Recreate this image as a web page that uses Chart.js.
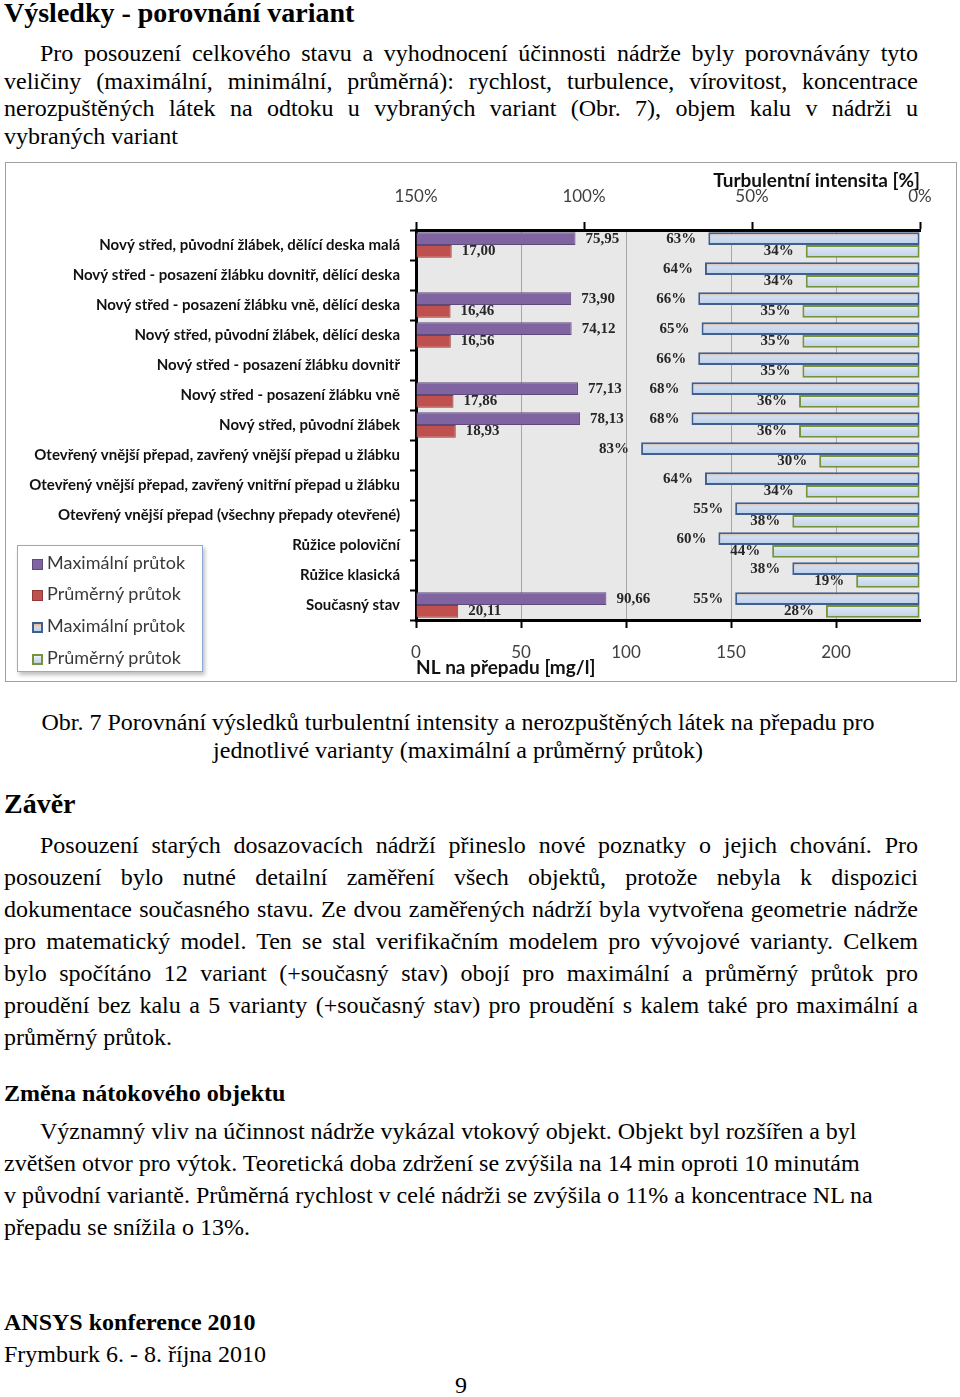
<!DOCTYPE html>
<html lang="cs">
<head>
<meta charset="utf-8">
<title>Výsledky - porovnání variant</title>
<script src="https://cdn.jsdelivr.net/npm/chart.js@4/dist/chart.umd.min.js"></script>
<style>
  html, body { margin: 0; padding: 0; background: #fff; }
  body { width: 960px; height: 1397px; position: relative; overflow: hidden;
         font-family: "Liberation Serif", "Times New Roman", serif; color: #000; font-size: 24px; }
  .abs { position: absolute; }
  .h1 { font-weight: bold; font-size: 28px; line-height: 32px; white-space: nowrap; }
  .h2 { font-weight: bold; font-size: 24px; line-height: 32px; white-space: nowrap; }
  .just div { text-align: justify; text-align-last: justify; white-space: nowrap; }
  .just div.last, .left div { text-align: left; text-align-last: left; white-space: nowrap; }
  .ind { text-indent: 36px; }
  #box { position: absolute; left: 5px; top: 162px; width: 952px; height: 520px;
         border: 1px solid #a0a0a0; box-sizing: border-box; background: #fff; }
  #c { position: absolute; left: 0; top: 0; }
  #legend { position: absolute; left: 11px; top: 382px; width: 186px; height: 127px;
            border: 1px solid #8eaadb; background: #fff; box-sizing: border-box;
            box-shadow: 2px 3px 4px rgba(0,0,0,0.25);
            font-family: Lato, "Open Sans", sans-serif; font-size: 18px; color: #3a3a3a; }
  #legend .it { position: absolute; left: 14px; height: 24px; line-height: 24px; white-space: nowrap; }
  #legend .mk { display: inline-block; width: 11px; height: 11px; box-sizing: border-box;
                margin-right: 4px; vertical-align: -1px; }
</style>
</head>
<body>

<div class="abs h1" style="left:4px; top:-3px;">Výsledky - porovnání variant</div>

<div class="abs just" style="left:4px; top:40px; width:914px; line-height:27.7px;">
  <div class="ind">Pro posouzení celkového stavu a vyhodnocení účinnosti nádrže byly porovnávány tyto</div>
  <div>veličiny (maximální, minimální, průměrná): rychlost, turbulence, vírovitost, koncentrace</div>
  <div>nerozpuštěných látek na odtoku u vybraných variant (Obr. 7), objem kalu v&nbsp;nádrži u</div>
  <div class="last">vybraných variant</div>
</div>

<div id="box">
  <canvas id="c" width="950" height="518"></canvas>
  <div id="legend">
    <div class="it" style="top:4px;"><span class="mk" style="background:#8064a2;border:1px solid #5e4a7a;"></span>Maximální průtok</div>
    <div class="it" style="top:35px;"><span class="mk" style="background:#c0504d;border:1px solid #8e3a38;"></span>Průměrný průtok</div>
    <div class="it" style="top:67px;"><span class="mk" style="background:linear-gradient(#f2b68c,#d0def0 45%,#bcd0ea);border:2px solid #3f5f8e;"></span>Maximální průtok</div>
    <div class="it" style="top:99px;"><span class="mk" style="background:linear-gradient(#eef2f7,#d3e0f0 45%,#bfd2ea);border:2px solid #77933c;"></span>Průměrný průtok</div>
  </div>
</div>

<div class="abs" style="left:0; top:708px; width:916px; text-align:center; line-height:28px; white-space:nowrap;">
  Obr. 7 Porovnání výsledků turbulentní intensity a nerozpuštěných látek na přepadu pro<br>jednotlivé varianty (maximální a průměrný průtok)
</div>

<div class="abs h1" style="left:4px; top:788px;">Závěr</div>

<div class="abs just" style="left:4px; top:829px; width:914px; line-height:32px;">
  <div class="ind">Posouzení starých dosazovacích nádrží přineslo nové poznatky o jejich chování. Pro</div>
  <div>posouzení bylo nutné detailní zaměření všech objektů, protože nebyla k&nbsp;dispozici</div>
  <div>dokumentace současného stavu. Ze dvou zaměřených nádrží byla vytvořena geometrie nádrže</div>
  <div>pro matematický model. Ten se stal verifikačním modelem pro vývojové varianty. Celkem</div>
  <div>bylo spočítáno 12 variant (+současný stav) obojí pro maximální a průměrný průtok pro</div>
  <div>proudění bez kalu a 5 varianty (+současný stav) pro proudění s&nbsp;kalem také pro maximální a</div>
  <div class="last">průměrný průtok.</div>
</div>

<div class="abs h2" style="left:4px; top:1077px;">Změna nátokového objektu</div>

<div class="abs left" style="left:4px; top:1115px; width:914px; line-height:32px;">
  <div class="ind">Významný vliv na účinnost nádrže vykázal vtokový objekt. Objekt byl rozšířen a byl</div>
  <div>zvětšen otvor pro výtok. Teoretická doba zdržení se zvýšila na 14 min oproti 10 minutám</div>
  <div>v&nbsp;původní variantě. Průměrná rychlost v celé nádrži se zvýšila o 11% a koncentrace NL na</div>
  <div>přepadu se snížila o 13%.</div>
</div>

<div class="abs h2" style="left:4px; top:1306px;">ANSYS konference 2010</div>
<div class="abs" style="left:4px; top:1338px; line-height:32px; white-space:nowrap;">Frymburk 6. - 8. října 2010</div>
<div class="abs" style="left:455px; top:1369px; line-height:32px;">9</div>

<script>
const categories = [
  'Nový střed, původní žlábek, dělící deska malá',
  'Nový střed - posazení žlábku dovnitř, dělící deska',
  'Nový střed - posazení žlábku vně, dělící deska',
  'Nový střed, původní žlábek, dělící deska',
  'Nový střed - posazení žlábku dovnitř',
  'Nový střed - posazení žlábku vně',
  'Nový střed, původní žlábek',
  'Otevřený vnější přepad, zavřený vnější přepad u žlábku',
  'Otevřený vnější přepad, zavřený vnitřní přepad u žlábku',
  'Otevřený vnější přepad (všechny přepady otevřené)',
  'Růžice poloviční',
  'Růžice klasická',
  'Současný stav'
];
// NL na prepadu [mg/l]
const nlMax = [75.95, null, 73.90, 74.12, null, 77.13, 78.13, null, null, null, null, null, 90.66];
const nlAvg = [17.00, null, 16.46, 16.56, null, 17.86, 18.93, null, null, null, null, null, 20.11];
// turbulentni intensita [%]
const tiMax = [63, 64, 66, 65, 66, 68, 68, 83, 64, 55, 60, 38, 55];
const tiAvg = [34, 34, 35, 35, 35, 36, 36, 30, 34, 38, 44, 19, 28];
const seriesNames = ['Maximální průtok', 'Průměrný průtok', 'Maximální průtok', 'Průměrný průtok'];
const nlTicks = [0, 50, 100, 150, 200];
const tiTicks = [150, 100, 50, 0];
const tiTitle = 'Turbulentní intensita [%]';

const CAT_PCT = 0.85;

// vertical gradient for the turbulence bars, computed from the y scale
function barFill(stops, slot) {
  return function (ctx) {
    const chart = ctx.chart;
    const ys = chart.scales.y;
    if (!chart.chartArea || !ys || ctx.dataIndex === undefined) return stops[1][1];
    const c = ys.getPixelForValue(ctx.dataIndex);
    const h = ys.height / categories.length * CAT_PCT / 2;
    const top = slot === 0 ? c - h : c;
    const g = chart.ctx.createLinearGradient(0, top, 0, top + h);
    stops.forEach(s => g.addColorStop(s[0], s[1]));
    return g;
  };
}

const plotBg = {
  id: 'plotBg',
  beforeDraw(chart) {
    const a = chart.chartArea, ctx = chart.ctx;
    ctx.save();
    ctx.fillStyle = '#e8e8e8';
    ctx.fillRect(a.left, a.top, a.right - a.left, a.bottom - a.top);
    ctx.restore();
  }
};

// title of the reversed top axis, right aligned at its end
const topTitle = {
  id: 'topTitle',
  afterDraw(chart) {
    const s = chart.scales.x2, ctx = chart.ctx;
    ctx.save();
    ctx.font = 'bold 19px Lato';
    ctx.fillStyle = '#111';
    ctx.textAlign = 'right';
    ctx.textBaseline = 'middle';
    ctx.fillText(tiTitle, s.right, s.top + 18);
    ctx.restore();
  }
};

const valueLabels = {
  id: 'valueLabels',
  afterDatasetsDraw(chart) {
    const ctx = chart.ctx;
    ctx.save();
    ctx.font = 'bold 15px "Liberation Serif"';
    ctx.fillStyle = '#262626';
    ctx.textBaseline = 'middle';
    chart.data.datasets.forEach((ds, i) => {
      const meta = chart.getDatasetMeta(i);
      meta.data.forEach((bar, j) => {
        const v = ds.data[j];
        if (v === null || v === undefined) return;
        if (ds.xAxisID === 'x') {
          ctx.textAlign = 'left';
          ctx.fillText(v.toFixed(2).replace('.', ','), bar.x + 10, bar.y);
        } else {
          ctx.textAlign = 'right';
          ctx.fillText(v + '%', bar.x - 12, bar.y);
        }
      });
    });
    ctx.restore();
  }
};

const tickFont = { family: 'Lato', size: 17 };
const titleFont = { family: 'Lato', size: 19, weight: 'bold' };

new Chart(document.getElementById('c'), {
  type: 'bar',
  data: {
    labels: categories,
    datasets: [
      { label: seriesNames[0], data: nlMax, xAxisID: 'x', stack: 'max',
        backgroundColor: '#8064a2', borderColor: '#5e4a7a', borderWidth: 1 },
      { label: seriesNames[1], data: nlAvg, xAxisID: 'x', stack: 'avg',
        backgroundColor: '#c0504d', borderColor: '#8e3a38', borderWidth: 1 },
      { label: seriesNames[2], data: tiMax, xAxisID: 'x2', stack: 'max',
        backgroundColor: barFill([[0, '#f2b68c'], [0.35, '#d0def0'], [1, '#bcd0ea']], 0),
        borderColor: '#3f5f8e', borderWidth: 2, borderSkipped: false },
      { label: seriesNames[3], data: tiAvg, xAxisID: 'x2', stack: 'avg',
        backgroundColor: barFill([[0, '#eef2f7'], [0.4, '#d3e0f0'], [1, '#bfd2ea']], 1),
        borderColor: '#77933c', borderWidth: 2, borderSkipped: false }
    ]
  },
  options: {
    indexAxis: 'y',
    responsive: false,
    devicePixelRatio: 1,
    animation: false,
    events: [],
    barPercentage: 1,
    categoryPercentage: CAT_PCT,
    layout: { padding: { left: 0, right: 36, top: 0, bottom: 0 } },
    plugins: { legend: { display: false }, tooltip: { enabled: false } },
    scales: {
      y: {
        ticks: { color: '#111', font: { family: 'Lato', size: 15, weight: 'bold' }, padding: 10, autoSkip: false },
        grid: { drawOnChartArea: false, tickLength: 6, tickColor: '#000', tickWidth: 2 },
        border: { color: '#000', width: 3 },
        afterFit(s) { s.width = 410; }
      },
      x: {
        position: 'bottom', min: 0, max: 240, stacked: false,
        afterBuildTicks(s) { s.ticks = nlTicks.map(v => ({ value: v })); },
        ticks: { color: '#404040', font: tickFont, padding: 14, maxRotation: 0 },
        grid: { color: '#a6a6a6', lineWidth: 1, tickColor: '#000', tickWidth: 2, tickLength: 8 },
        border: { color: '#000', width: 3 },
        title: { display: true, text: 'NL na přepadu [mg/l]', align: 'start', color: '#111',
                 font: titleFont, padding: { top: 0, bottom: 2 } },
        afterFit(s) { s.height = 61; }
      },
      x2: {
        position: 'top', min: 0, max: 150, reverse: true, stacked: false,
        afterBuildTicks(s) { s.ticks = tiTicks.map(v => ({ value: v })); },
        ticks: { color: '#404040', font: tickFont, padding: 15, maxRotation: 0,
                 callback: v => v + '%' },
        grid: { drawOnChartArea: false, tickColor: '#000', tickWidth: 2, tickLength: 8 },
        border: { color: '#000', width: 3 },
        title: { display: false },
        afterFit(s) { s.height = 67; }
      }
    }
  },
  plugins: [plotBg, valueLabels, topTitle]
});
</script>
</body>
</html>
